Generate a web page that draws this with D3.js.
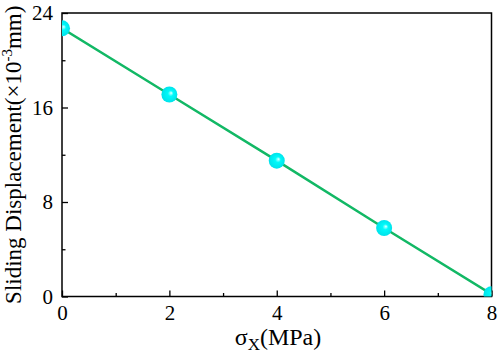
<!DOCTYPE html>
<html><head><meta charset="utf-8">
<script src="https://cdn.jsdelivr.net/npm/d3@7"></script>
<style>body{margin:0;background:#fff}svg{display:block}text{font-family:"Liberation Serif","Times New Roman",serif;fill:#000}</style>
</head><body><svg id="c" width="498" height="353"></svg>
<script>
const xValues = [0, 2, 4, 6, 8];
const displacement = [22.7, 17.1, 11.5, 5.8, 0.2];
const xTicks = [0, 2, 4, 6, 8];
const xMinor = [1, 3, 5, 7];
const yTicks = [0, 8, 16, 24];
const yMinor = [4, 12, 20];

const svg = d3.select("#c");
const L = 62, R = 491.5, T = 13, B = 296.5;
const x = d3.scaleLinear().domain([0, 8]).range([L, R]);
const y = d3.scaleLinear().domain([0, 24]).range([B, T]);

const defs = svg.append("defs");
defs.append("clipPath").attr("id", "clip").append("rect")
  .attr("x", L).attr("y", T).attr("width", R - L).attr("height", B - T);
const g = defs.append("radialGradient").attr("id", "ball")
  .attr("cx", "50%").attr("cy", "50%").attr("r", "50%").attr("fx", "62%").attr("fy", "40%");
g.append("stop").attr("offset", "0%").attr("stop-color", "#f0ffff");
g.append("stop").attr("offset", "14%").attr("stop-color", "#80ffff");
g.append("stop").attr("offset", "35%").attr("stop-color", "#00fafa");
g.append("stop").attr("offset", "100%").attr("stop-color", "#00e2ea");

// axes
const xAxis = d3.axisBottom(x).tickValues(xTicks).tickSize(-6).tickPadding(9).tickFormat(d3.format("d"));
const xAxisMinor = d3.axisBottom(x).tickValues(xMinor).tickSize(-3.5).tickFormat("");
const yAxis = d3.axisLeft(y).tickValues(yTicks).tickSize(-6).tickPadding(9).tickFormat(d3.format("d"));
const yAxisMinor = d3.axisLeft(y).tickValues(yMinor).tickSize(-3.5).tickFormat("");

function style(sel) {
  sel.attr("font-size", 21).attr("font-family", '"Liberation Serif", serif');
  sel.select(".domain").remove();
  sel.selectAll("line").attr("stroke", "#000").attr("stroke-width", 1.3);
}
svg.append("g").attr("transform", `translate(0,${B})`).call(xAxis).call(style);
svg.append("g").attr("transform", `translate(0,${B})`).call(xAxisMinor).call(style);
svg.append("g").attr("transform", `translate(${L},0)`).call(yAxis).call(style);
svg.append("g").attr("transform", `translate(${L},0)`).call(yAxisMinor).call(style);

// frame
svg.append("rect").attr("x", L).attr("y", T).attr("width", R - L).attr("height", B - T)
  .attr("fill", "none").attr("stroke", "#000").attr("stroke-width", 1.5);

const plot = svg.append("g").attr("clip-path", "url(#clip)");
const pts = xValues.map((v, i) => [v, displacement[i]]);
plot.append("path").datum(pts)
  .attr("d", d3.line().x(d => x(d[0])).y(d => y(d[1])))
  .attr("fill", "none").attr("stroke", "#12b865").attr("stroke-width", 2.5);
plot.selectAll("circle").data(pts).join("circle")
  .attr("cx", d => x(d[0])).attr("cy", d => y(d[1])).attr("r", 8)
  .attr("fill", "url(#ball)");

// titles
svg.append("text").attr("x", 278).attr("y", 345).attr("text-anchor", "middle")
  .attr("font-size", 24)
  .html('σ<tspan dy="5" font-size="17">X</tspan><tspan dy="-5">(MPa)</tspan>');
svg.append("text").attr("transform", `translate(21,${(T + B) / 2}) rotate(-90)`)
  .attr("text-anchor", "middle").attr("font-size", 23)
  .html('Sliding Displacement(×10<tspan dy="-9" font-size="15">-3</tspan><tspan dy="9">mm)</tspan>');
</script></body></html>
